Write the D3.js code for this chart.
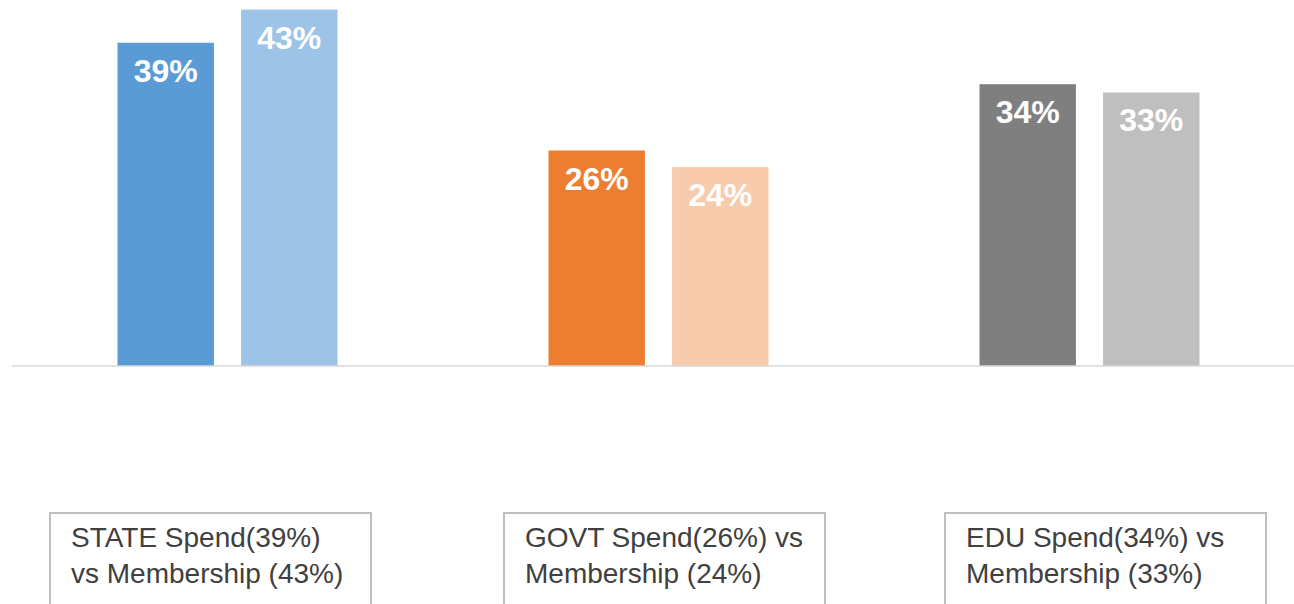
<!DOCTYPE html>
<html>
<head>
<meta charset="utf-8">
<script src="https://cdn.jsdelivr.net/npm/d3@7"></script>
<style>
  body { margin: 0; background: #fff; }
  svg { display: block; font-family: Arial, "Liberation Sans", sans-serif; }
</style>
</head>
<body>
<div id="chart"></div>
<script>
// donnees du graphique
var groups = ["STATE", "GOVT", "EDU"];
var spend = [39, 26, 34];
var membership = [43, 24, 33];
var boxLines = [
  ["STATE Spend(39%)", "vs Membership (43%)"],
  ["GOVT Spend(26%) vs", "Membership (24%)"],
  ["EDU Spend(34%) vs", "Membership (33%)"]
];

var darkColors = ["#5B9BD5", "#ED7D31", "#7F7F7F"];
var lightColors = ["#9DC3E6", "#F8CBAD", "#BFBFBF"];

var width = 1294,
    height = 604,
    baseY = 366;

var svg = d3.select("#chart")
  .append("svg")
  .attr("width", width)
  .attr("height", height);

// echelle des groupes
var x0 = d3.scalePoint()
  .domain(groups)
  .range([12, 1305])
  .padding(0.5);

// echelle des deux barres dans un groupe
var x1 = d3.scaleBand()
  .domain(["spend", "membership"])
  .range([-110, 110])
  .paddingInner(0.22);

var y = d3.scaleLinear()
  .domain([0, 44.16])
  .range([baseY, 0]);

var bars = [];
groups.forEach(function(g, i) {
  bars.push({ group: g, key: "spend", value: spend[i], color: darkColors[i] });
  bars.push({ group: g, key: "membership", value: membership[i], color: lightColors[i] });
});

svg.selectAll("rect.bar")
  .data(bars)
  .enter()
  .append("rect")
  .attr("class", "bar")
  .attr("x", function(d) { return x0(d.group) + x1(d.key); })
  .attr("y", function(d) { return y(d.value); })
  .attr("width", x1.bandwidth())
  .attr("height", function(d) { return baseY - y(d.value); })
  .attr("fill", function(d) { return d.color; });

// etiquettes blanches dans les barres
svg.selectAll("text.val")
  .data(bars)
  .enter()
  .append("text")
  .attr("class", "val")
  .attr("x", function(d) { return x0(d.group) + x1(d.key) + x1.bandwidth() / 2; })
  .attr("y", function(d) { return y(d.value) + 39; })
  .attr("text-anchor", "middle")
  .attr("fill", "#fff")
  .attr("font-weight", "bold")
  .attr("font-size", 32)
  .text(function(d) { return d.value + "%"; });

// ligne de base
svg.append("line")
  .attr("x1", 12)
  .attr("x2", width)
  .attr("y1", baseY)
  .attr("y2", baseY)
  .attr("stroke", "#d9d9d9")
  .attr("stroke-width", 1.5);

// boites de texte en bas
var boxLeft = [50, 504, 945];
var box = svg.selectAll("g.box")
  .data(boxLines)
  .enter()
  .append("g")
  .attr("class", "box")
  .attr("transform", function(d, i) { return "translate(" + boxLeft[i] + ",513)"; });

box.append("rect")
  .attr("width", 321)
  .attr("height", 120)
  .attr("fill", "#fff")
  .attr("stroke", "#bfbfbf")
  .attr("stroke-width", 2);

box.selectAll("text")
  .data(function(d) { return d; })
  .enter()
  .append("text")
  .attr("x", 21)
  .attr("y", function(d, j) { return 34 + j * 36; })
  .attr("fill", "#404040")
  .attr("font-size", 28)
  .text(function(d) { return d; });
</script>
</body>
</html>
